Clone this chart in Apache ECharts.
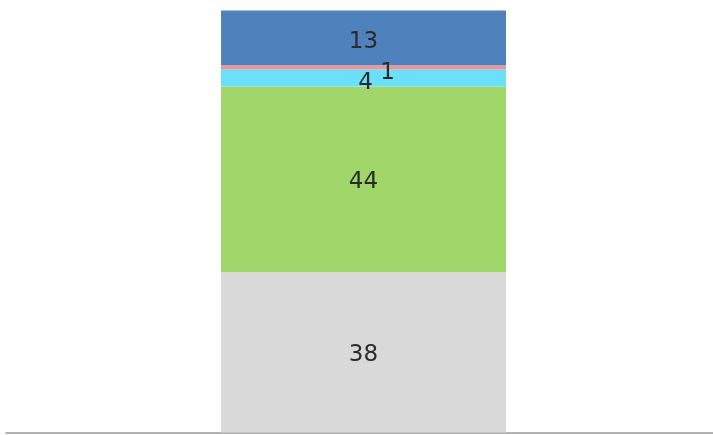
<!DOCTYPE html>
<html>
<head>
<meta charset="utf-8">
<script src="https://cdn.jsdelivr.net/npm/echarts@6/dist/echarts.min.js"></script>
<style>
  html, body { margin: 0; padding: 0; background: #ffffff; }
  #chart { width: 713px; height: 435px; }
</style>
</head>
<body>
<div id="chart"></div>
<script>
// One stacked column, bottom segment first
const categories = ['Total'];
const segmentNames = ['A', 'B', 'C', 'D', 'E'];
const segmentValues = [38, 44, 4, 1, 13];
const segmentColors = ['#d9d9d9', '#a1d76a', '#6ce0f9', '#e5979c', '#4f81bd'];
const labelOffsets = [[0, 3], [0, 3], [2, 5], [24, 6], [0, 4]];

const chart = echarts.init(document.getElementById('chart'));

const series = segmentValues.map((v, i) => ({
  name: segmentNames[i],
  type: 'bar',
  stack: 'total',
  xAxisIndex: 1,
  yAxisIndex: 1,
  barWidth: 285,
  data: [v],
  itemStyle: { color: segmentColors[i] },
  label: {
    show: true,
    position: 'inside',
    offset: labelOffsets[i],
    color: '#2b2b2b',
    fontFamily: 'DejaVu Sans',
    fontSize: 23,
    formatter: '{c}'
  },
  emphasis: { disabled: true }
}));

chart.setOption({
  animation: false,
  grid: [
    { left: 6, right: 0, top: 10.5, bottom: 2.5 },
    { left: 14, right: 0, top: 10.5, bottom: 2.5 }
  ],
  xAxis: [
    {
      gridIndex: 0,
      type: 'category',
      data: categories,
      axisLine: { show: true, lineStyle: { color: '#999999', width: 1.6 } },
      axisTick: { show: false },
      axisLabel: { show: false }
    },
    {
      gridIndex: 1,
      type: 'category',
      data: categories,
      axisLine: { show: false },
      axisTick: { show: false },
      axisLabel: { show: false }
    }
  ],
  yAxis: [
    { gridIndex: 0, type: 'value', min: 0, max: 100, show: false },
    { gridIndex: 1, type: 'value', min: 0, max: 100, show: false }
  ],
  series: series
});
</script>
</body>
</html>
